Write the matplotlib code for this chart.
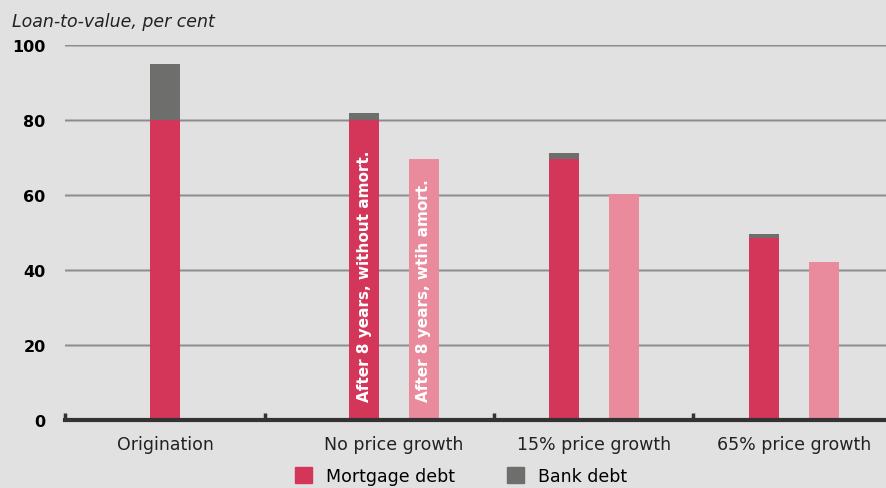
import matplotlib
matplotlib.use("Agg")
import numpy as np
from matplotlib import pyplot as plt
from matplotlib.patches import Patch

categories = ["Origination", "No price growth", "15% price growth", "65% price growth"]
mortgage_debt = [80.0, 80.0, 69.6, 48.5]
bank_debt = [15.0, 2.0, 1.7, 1.2]
amortised = [None, 69.5, 60.4, 42.1]
bar_notes = ["After 8 years, without amort.", "After 8 years, wtih amort."]
y_ticks = [0, 20, 40, 60, 80, 100]

BG = "#e1e1e1"
DARK = "#d33658"
LIGHT = "#e98b9c"
GREY = "#6e6f6c"
FONT = "DejaVu Sans"

# layout of the category axis (x units)
group_centres = [1.0, 3.29, 5.29, 7.29]
group_edges = [0.0, 2.0, 4.29, 6.28]
offset = 0.3
width = 0.3

fig = plt.figure(figsize=(8.86, 4.89), dpi=100)
fig.patch.set_facecolor(BG)
ax = fig.add_axes([65 / 886, (489 - 421) / 489, 1 - 65 / 886, (421 - 46) / 489])
ax.set_facecolor(BG)

for y in y_ticks[1:]:
    ax.axhline(y, color="#c2c2c2", linewidth=2.2, zorder=0)
    ax.axhline(y, color="#8c8c8c", linewidth=1.0, zorder=0)

for i, cx in enumerate(group_centres):
    if amortised[i] is None:
        xd = cx
    else:
        xd = cx - offset
        ax.bar(cx + offset, amortised[i], width=width, color=LIGHT, zorder=2)
    ax.bar(xd, mortgage_debt[i], width=width, color=DARK, zorder=2)
    ax.bar(xd, bank_debt[i], width=width, bottom=mortgage_debt[i], color=GREY, zorder=2)

# rotated notes in the "No price growth" bars
for k, dx in enumerate([-offset, offset]):
    ax.text(group_centres[1] + dx, 5, bar_notes[k], rotation=90, ha="center", va="bottom",
            color="white", fontsize=11, fontweight="semibold", family=FONT, zorder=3)

ax.set_xlim(0, 8.21)
ax.set_ylim(0, 100)
ax.set_yticks(y_ticks)
ax.set_yticklabels([str(v) for v in y_ticks], fontsize=11.5, fontweight="bold", family=FONT)
ax.tick_params(axis="y", length=0, pad=14)
ax.set_xticks(group_centres)
ax.set_xticklabels(categories, fontsize=12.5, family=FONT, color="#222222")
ax.set_xticks(group_edges, minor=True)
ax.tick_params(axis="x", which="major", length=0, pad=11)
ax.tick_params(axis="x", which="minor", direction="in", length=5, width=2.5, color="#333333")

for s in ["top", "right", "left"]:
    ax.spines[s].set_visible(False)
ax.spines["bottom"].set_color("#333333")
ax.spines["bottom"].set_linewidth(3)
ax.spines["bottom"].set_zorder(4)

fig.text(12 / 886, 1 - 22 / 489, "Loan-to-value, per cent", fontsize=12.5, style="italic",
         family=FONT, va="center", ha="left", color="#222222")

handles = [Patch(color=DARK, label="Mortgage debt"), Patch(color=GREY, label="Bank debt")]
fig.legend(handles=handles, loc="center", bbox_to_anchor=(461 / 886, 1 - 477 / 489), ncol=2,
           frameon=False, prop={"family": FONT, "size": 12.5},
           handlelength=1.0, handleheight=1.0, columnspacing=3.0, handletextpad=0.8)

fig.savefig("out.png", dpi=100, facecolor=BG)
